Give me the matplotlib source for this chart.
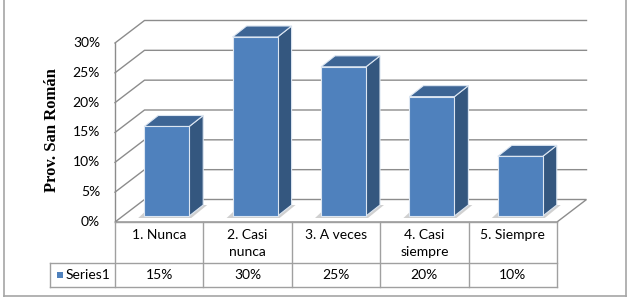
import matplotlib
matplotlib.use('Agg')
import matplotlib.pyplot as plt
from matplotlib.patches import Polygon, Rectangle
from matplotlib.lines import Line2D

categories = ['1. Nunca', '2. Casi\nnunca', '3. A veces', '4. Casi\nsiempre', '5. Siempre']
values = [15, 30, 25, 20, 10]
value_labels = ['15%', '30%', '25%', '20%', '10%']
yticks = [0, 5, 10, 15, 20, 25, 30]
series_name = 'Series1'
ylabel = 'Prov. San Román'

# pixel -> data helpers (one category = 88.4 px, 1% = 5.967 px)
COL = 88.4
PCT = 5.967
def px_x(n):
    return n / COL
def px_y(n):
    return n / PCT

fig = plt.figure(figsize=(6.32, 2.97), dpi=100)
ax = fig.add_axes([0, 0, 1, 1])
ax.set_xlim(-0.5 - 115 / COL, -0.5 + 517 / COL)
ax.set_ylim(-75 / PCT, 222 / PCT)
ax.axis('off')

grid_c = '#8c8c8c'
n = len(categories)
left_edge = -0.5
right_edge = n - 0.5
wdx, wdy = px_x(29.5), px_y(22.5)
fs = 10

# floor
ax.add_patch(Polygon([(left_edge, 0), (right_edge, 0), (right_edge + wdx, wdy),
                      (left_edge + wdx, wdy)], closed=True, fc='white', ec=grid_c, lw=1, zorder=1))
# walls / gridlines
for v in yticks:
    if v > 0:
        ax.plot([left_edge, left_edge + wdx, right_edge + wdx], [v, v + wdy, v + wdy],
                color=grid_c, lw=1, zorder=1)
    ax.text(left_edge - px_x(15), v, f'{v}%', ha='right', va='center',
            fontsize=fs, family='Lato', color='#000000')
ax.plot([left_edge, left_edge], [0, yticks[-1]], color=grid_c, lw=1, zorder=1)

# bars
base = px_y(6)
bw = px_x(45)
bdx, bdy = px_x(14), px_y(11)
front_c = '#4f81bd'
side_c = '#34577f'
top_c = '#3d6595'
edge_c = '#dce6f2'
for i, v in enumerate(values):
    L = i + px_x(7.5) - bw / 2
    R = L + bw
    # base shadow
    ax.add_patch(Polygon([(L - px_x(6), base - px_y(2)), (R + px_x(2), base - px_y(2)),
                          (R + bdx + px_x(4), base + bdy), (L + bdx - px_x(6), base + bdy)],
                         closed=True, fc='#bdbdbd', ec='none', alpha=0.7, zorder=2))
    ax.bar(i + px_x(7.5), v, width=bw, bottom=base, color=front_c,
           edgecolor=edge_c, linewidth=0.8, zorder=4)
    ax.add_patch(Polygon([(R, base), (R + bdx, base + bdy), (R + bdx, base + v + bdy), (R, base + v)],
                         closed=True, fc=side_c, ec=edge_c, lw=0.8, zorder=3))
    ax.add_patch(Polygon([(L, base + v), (R, base + v), (R + bdx, base + v + bdy), (L + bdx, base + v + bdy)],
                         closed=True, fc=top_c, ec=edge_c, lw=0.8, zorder=3))

# y label
ax.text(left_edge - px_x(63), px_y(222 - 130), ylabel, rotation=90, ha='center', va='center',
        fontsize=12, fontweight='bold', family='Liberation Serif')

# data table
tab_c = '#a0a0a0'
r1 = -px_y(41)
r2 = -px_y(65)
hdr = left_edge - px_x(65)
ax.plot([left_edge, right_edge], [0, 0], color=tab_c, lw=1, zorder=5)
ax.plot([hdr, right_edge], [r1, r1], color=tab_c, lw=1)
ax.plot([hdr, right_edge], [r2, r2], color=tab_c, lw=1)
ax.plot([hdr, hdr], [r1, r2], color=tab_c, lw=1)
for k in range(n + 1):
    ax.plot([left_edge + k, left_edge + k], [0, r2], color=tab_c, lw=1)
for i, c in enumerate(categories):
    ax.text(i, -px_y(7), c, ha='center', va='top', fontsize=fs, family='Lato', linespacing=1.55)
    ax.text(i, (r1 + r2) / 2, value_labels[i], ha='center', va='center', fontsize=fs, family='Lato')
ax.add_patch(Rectangle((left_edge - px_x(58), (r1 + r2) / 2 - px_y(3)), px_x(6), px_y(6),
                       fc=front_c, ec='none'))
ax.text(left_edge - px_x(49), (r1 + r2) / 2, series_name, ha='left', va='center',
        fontsize=fs, family='Lato')

# outer border
bc = '#a6a6a6'
fig.add_artist(Line2D([4 / 632, 4 / 632], [0, 1], color=bc, lw=1.2))
fig.add_artist(Line2D([625.5 / 632, 625.5 / 632], [0, 1], color=bc, lw=1.2))
fig.add_artist(Line2D([4 / 632, 625.5 / 632], [1.5 / 297, 1.5 / 297], color=bc, lw=1.2))

fig.savefig('out.png', dpi=100)
